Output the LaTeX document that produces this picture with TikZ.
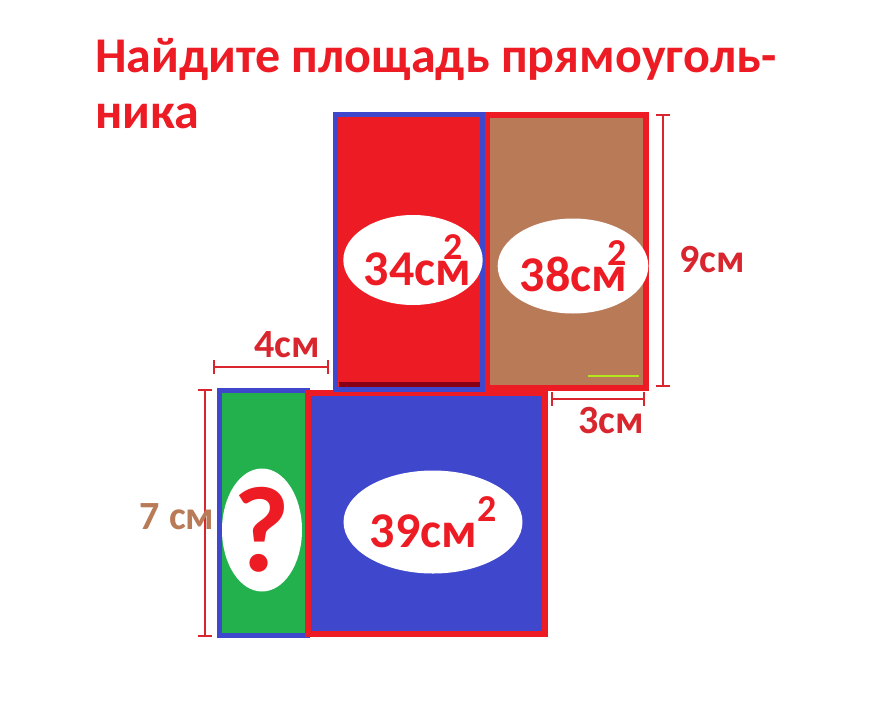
\documentclass[tikz,border=0pt]{standalone}
\usepackage{fontspec}
\setmainfont{Carlito}
\usepackage{xcolor}
\definecolor{paintRed}{HTML}{ED1C24}
\definecolor{paintBrown}{HTML}{B97A57}
\definecolor{paintBlue}{HTML}{3F48CC}
\definecolor{paintGreen}{HTML}{22B14C}
\definecolor{paintDark}{HTML}{880015}
\definecolor{paintLime}{HTML}{B5E61D}
\definecolor{dimRed}{HTML}{D9262E}
\usetikzlibrary{shapes.geometric,positioning,calc,arrows.meta}
\newcommand{\sqcm}[1][0pt]{см\kern#1\raisebox{26pt}{\fontsize{38}{38}\selectfont 2}}
\tikzset{%
  areaBox/.style={%
    rectangle,
    inner sep=0pt,
    outer sep=0pt,
    line width=5pt
  },
  labelOval/.style={%
    ellipse,
    fill=white,
    inner sep=0pt,
    text=paintRed,
    font=\bfseries\fontsize{50}{52}\selectfont
  },
  dimLine/.style={%
    {Bar[width=14pt]}-{Bar[width=14pt]},
    draw=dimRed,
    line width=2pt
  },
  dimText/.style={%
    text=dimRed,
    inner sep=0pt,
    font=\bfseries\fontsize{40}{44}\selectfont
  },
  titleText/.style={%
    anchor=base west,
    inner sep=0pt,
    text=paintRed,
    font=\bfseries\fontsize{50}{56}\selectfont
  }
}
\begin{document}
\begin{tikzpicture}[x=1pt,y=-1pt]
  \fill[white] (0,0) rectangle (890,715);
  \useasboundingbox (0,0) rectangle (890,715);

  % title
  \node[titleText] (title) at (95,72) {Найдите площадь прямоуголь-};
  \node[titleText] (titleEnd) at (95,128) {ника};

  % the four rectangles
  \node[areaBox, fill=paintGreen, draw=paintBlue, minimum width=88pt, minimum height=245pt] (greenBox) at (263.5,513) {};
  \node[areaBox, fill=paintBlue, draw=paintRed, line width=6pt, minimum width=237pt, minimum height=241pt] (blueBox) at (426.5,513.5) {};
  \node[areaBox, fill=paintBrown, draw=paintRed, line width=6pt, minimum width=159pt, minimum height=273pt] (brownBox) at (566,251) {};
  \node[areaBox, fill=paintRed, draw=paintBlue, minimum width=147pt, minimum height=275pt] (redBox) at (409,252) {};
  \fill[paintDark] ($(redBox.south west)+(3,-8)$) rectangle ($(redBox.south east)+(-3,-2.5)$);
  \draw[paintLime, line width=2pt] ($(brownBox.south east)+(-58,-12)$) -- ++(51,0);

  % area labels
  \node[labelOval, minimum width=108pt, minimum height=90pt] (areaRed) at (413,260) {34\sqcm[-28pt]};
  \node[labelOval, minimum width=111pt, minimum height=95pt] (areaBrown) at (573,266) {38\sqcm[-20pt]};
  \node[labelOval, minimum width=139pt, minimum height=103pt] (areaBlue) at (433,522) {39\sqcm};
  \node[labelOval, minimum width=80pt, minimum height=123pt, font=\bfseries\fontsize{122}{122}\selectfont] (areaGreen) at (262,530) {?};

  % dimensions
  \coordinate (nineTop) at (663,114);
  \coordinate (nineBot) at (663,387);
  \coordinate (fourL) at (213,367);
  \coordinate (fourR) at (329,367);
  \coordinate (sevenTop) at (205,389);
  \coordinate (sevenBot) at (205,637);
  \coordinate (threeL) at (551,399);
  \coordinate (threeR) at (645,399);
  \draw[dimLine] (nineTop) -- (nineBot);
  \draw[dimLine] (fourL) -- (fourR);
  \draw[dimLine] (sevenTop) -- (sevenBot);
  \draw[dimLine] (threeL) -- (threeR);
  \node[dimText] (nineLbl) at (712,260) {9см};
  \node[dimText] (fourLbl) at (287,345) {4см};
  \node[dimText] (threeLbl) at (611,421) {3см};
  \node[dimText, text=paintBrown] (sevenLbl) at (177,517) {7 см};
\end{tikzpicture}
\end{document}
